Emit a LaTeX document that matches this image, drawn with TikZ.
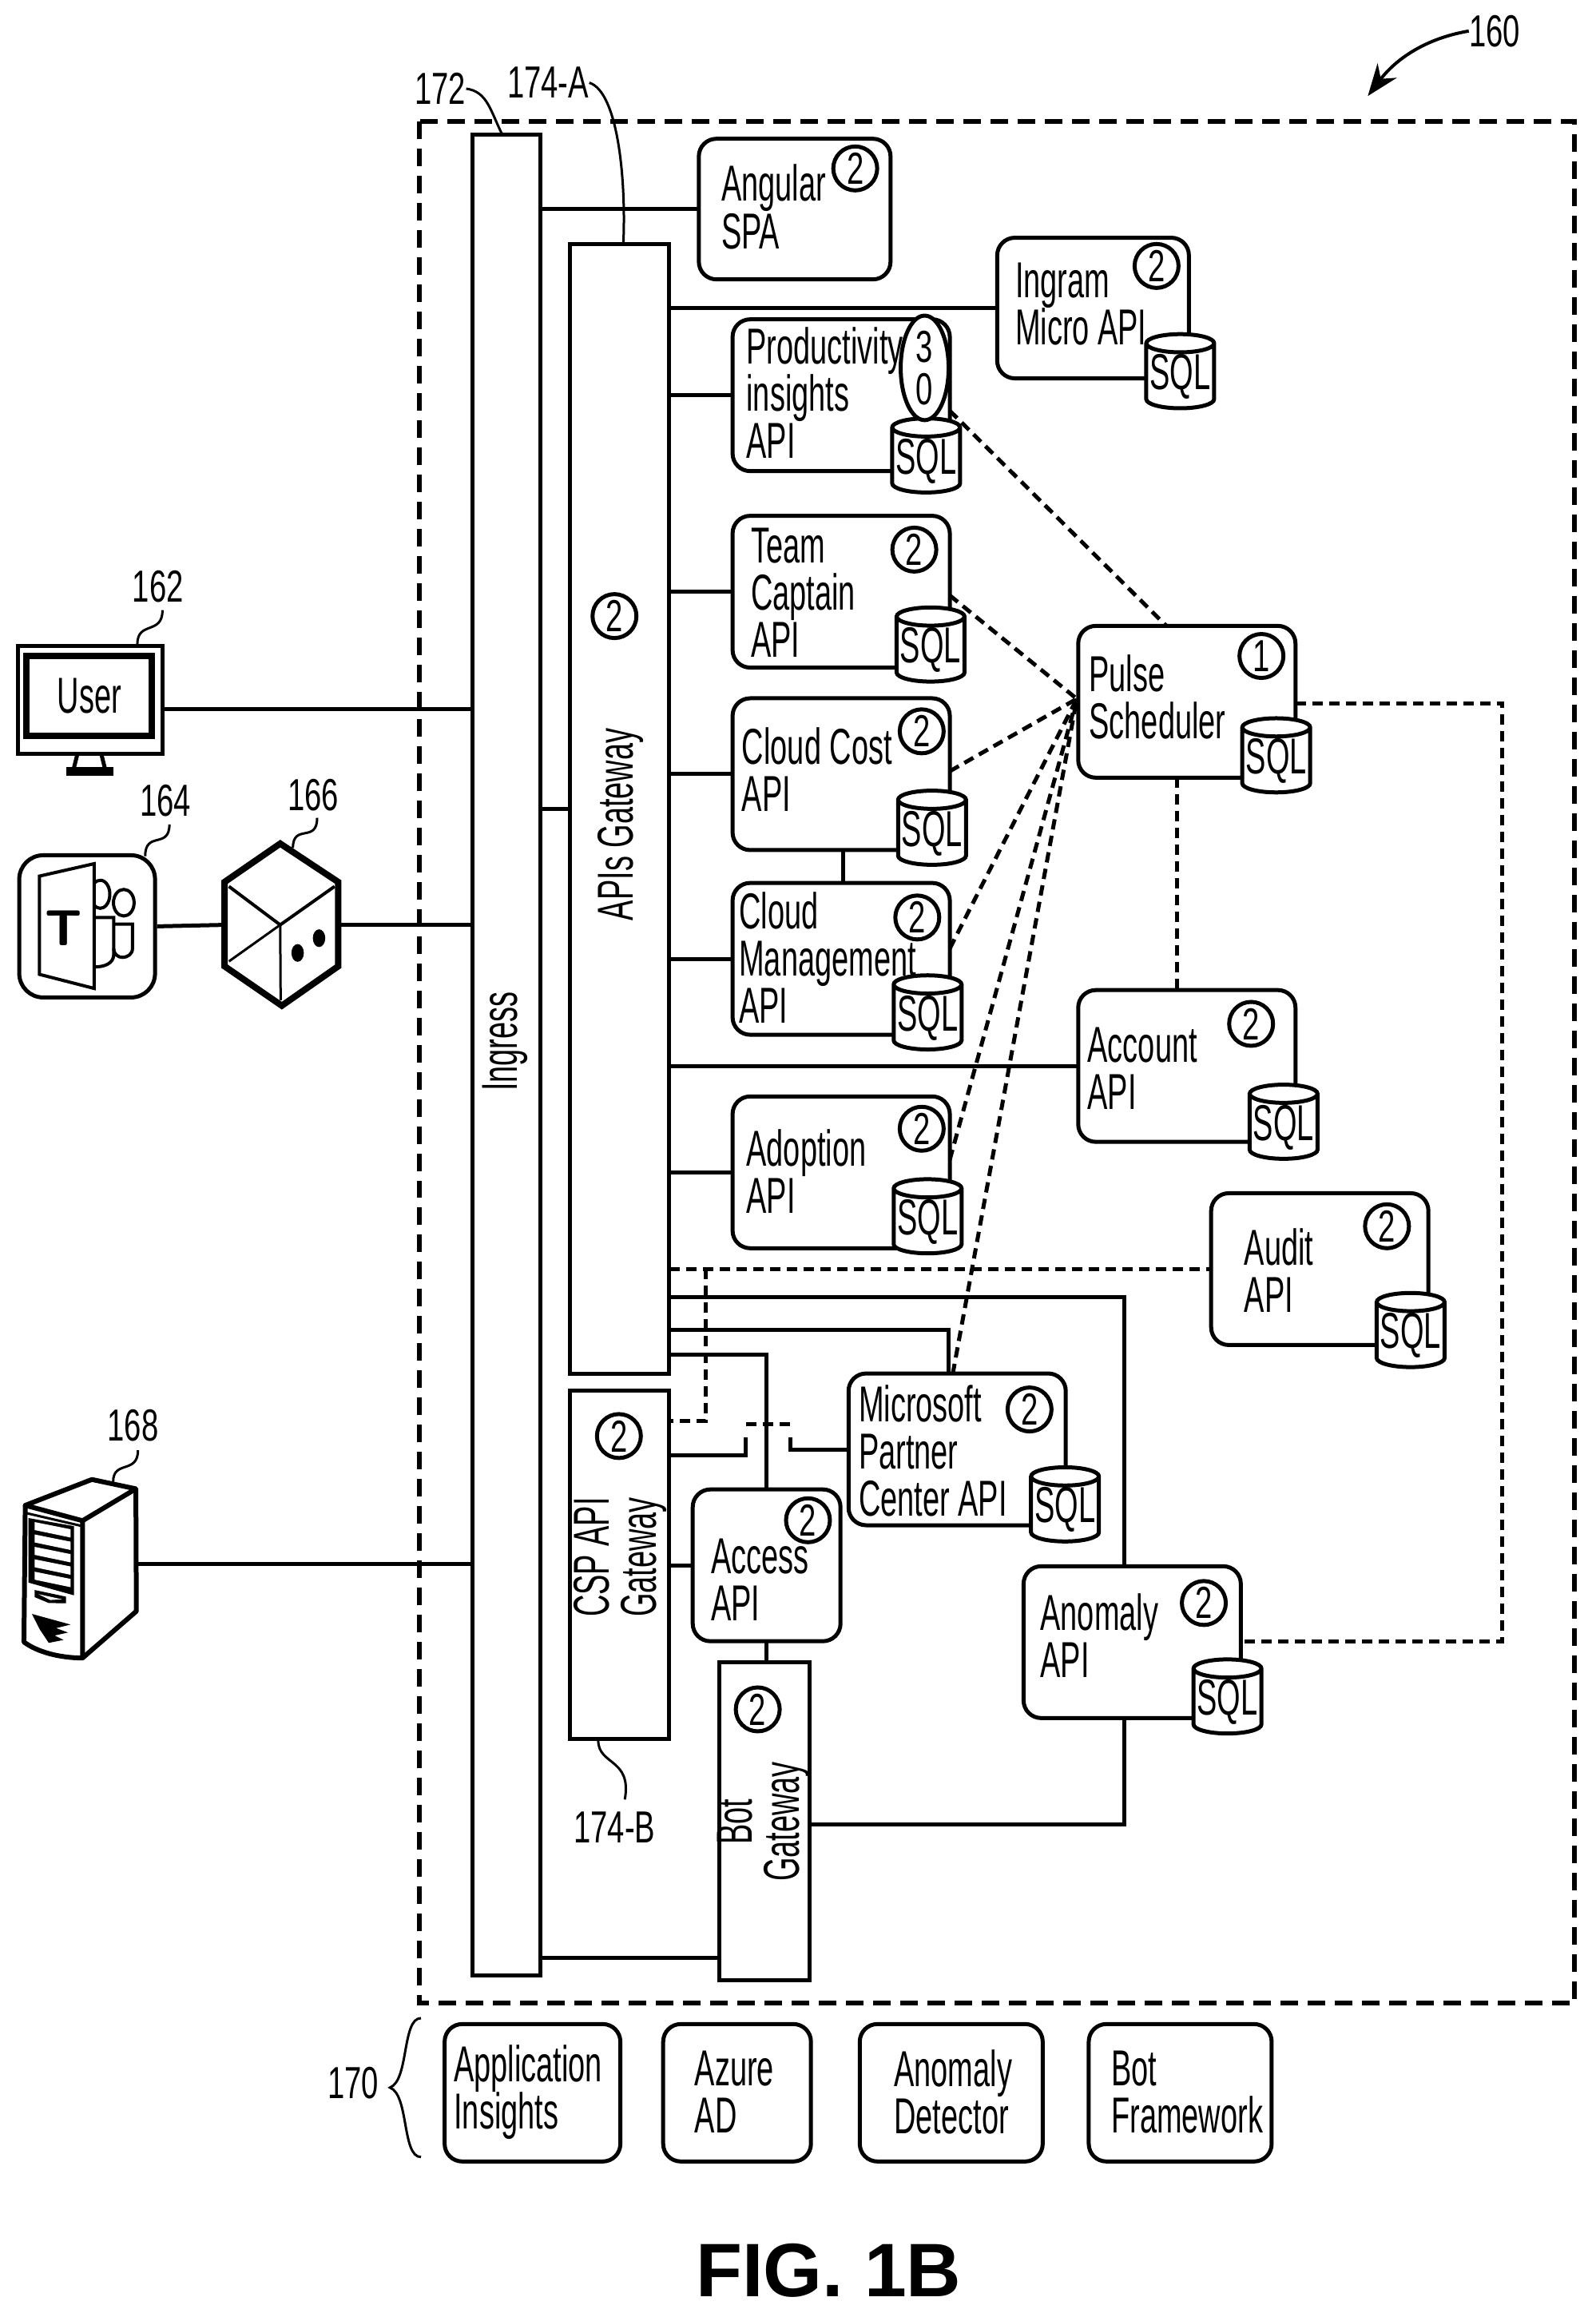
\documentclass[tikz,border=0pt]{standalone}
\usepackage{fontspec}
\setmainfont{Liberation Sans}
\newfontfamily\apifont[FakeStretch=0.6]{Liberation Sans}
\newfontfamily\labelfont[FakeStretch=0.68]{Liberation Sans}
\usetikzlibrary{shapes.geometric,arrows.meta}

\tikzset{
  wire/.style={line width=.05cm},
  dashwire/.style={line width=.05cm,dash pattern=on .13cm off .08cm},
  leader/.style={line width=.03cm},
  frameline/.style={line width=.06cm,dash pattern=on .22cm off .12cm},
  bartext/.style={font=\apifont\fontsize{18pt}{16.8pt}\selectfont,align=center,rotate=90,inner sep=0},
  boxtext/.style={font=\apifont\fontsize{18pt}{16.8pt}\selectfont,align=left,anchor=west,inner sep=0},
  reftext/.style={font=\labelfont\fontsize{16pt}{16pt}\selectfont,inner sep=0},
  bar/.style={draw,wire,fill=white,outer sep=0,inner sep=0},
  apibox/.style={draw,wire,fill=white,rounded corners=.22cm,outer sep=0,inner sep=0,minimum width=2.72cm,minimum height=1.9cm},
  smallbox/.style={apibox,minimum width=2.4cm,minimum height=1.76cm},
  svcbox/.style={apibox,minimum height=1.72cm},
  numcirc/.style={draw,wire,circle,fill=white,inner sep=0,minimum size=.55cm,font=\labelfont\fontsize{16pt}{16pt}\selectfont},
  sqldb/.style={draw,wire,fill=white,shape=cylinder,shape border rotate=90,aspect=.3,inner sep=0,outer sep=0,
    minimum width=.85cm,minimum height=.9cm,font=\apifont\fontsize{18pt}{16pt}\selectfont},
}

\begin{document}
\begin{tikzpicture}[x=.01849cm,y=-.01849cm]
  \useasboundingbox (0,0) rectangle (1080,1571);

  % dashed system frame
  \draw[frameline] (284,82) rectangle (1066,1356);

  % dashed links, under the boxes
  \coordinate (pulsein) at (790,424);
  \coordinate (msout) at (645,930);
  \coordinate (prodout) at (643,278);
  \coordinate (teamout) at (643,403);
  \coordinate (costout) at (643,522);
  \coordinate (mgmtout) at (643,642);
  \coordinate (adoptout) at (643,785);
  \coordinate (hub) at (729,473);
  \coordinate (cspcorner) at (478,962);
  \coordinate (auditcorner) at (478,859);
  \coordinate (rightup) at (1017,476);
  \coordinate (rightdown) at (1017,1111);
  \coordinate (anomout) at (840,1111);
  \draw[dashwire] (prodout) -- (pulsein);
  \draw[dashwire] (teamout) -- (hub);
  \draw[dashwire] (costout) -- (hub);
  \draw[dashwire] (mgmtout) -- (hub);
  \draw[dashwire] (adoptout) -- (hub);
  \draw[dashwire] (msout) -- (hub);

  % main bars
  \node[bar,minimum width=.85cm,minimum height=23.04cm] (ingress) at (343,714) {};
  \node[bar,minimum width=1.24cm,minimum height=14.14cm] (apis) at (419.5,547.5) {};
  \node[bar,minimum width=1.24cm,minimum height=4.36cm] (csp) at (419.5,1059) {};
  \node[bar,minimum width=1.13cm,minimum height=3.98cm] (bot) at (517.5,1232.5) {};
  \node[bartext] (ingresstext) at (342,705) {Ingress};
  \node[bartext] (apistext) at (420,558) {APIs Gateway};
  \node[bartext] (csptext) at (420,1054) {CSP API\\Gateway};
  \node[bartext] (bottext) at (517,1233) {Bot\\Gateway};

  % api boxes
  \node[smallbox] (angular) at (538,141.5) {};
  \node[smallbox] (ingram) at (740,208.5) {};
  \node[apibox] (prod) at (569.5,267.5) {};
  \node[apibox] (team) at (569.5,400.5) {};
  \node[apibox] (cost) at (569.5,524) {};
  \node[apibox] (mgmt) at (569.5,649) {};
  \node[apibox] (adopt) at (569.5,793.5) {};
  \node[apibox] (pulse) at (803.5,475) {};
  \node[apibox] (account) at (803.5,721.5) {};
  \node[apibox] (audit) at (893.5,859) {};
  \node[apibox] (ms) at (648,981) {};
  \node[apibox,minimum width=1.85cm] (access) at (519,1059.5) {};
  \node[apibox] (anomaly) at (766.5,1111.5) {};

  \node[boxtext] (angulartext) at (488,140) {Angular\\SPA};
  \node[boxtext] (ingramtext) at (687,206) {Ingram\\Micro API};
  \node[boxtext] (prodtext) at (505,266) {Productivity\\insights\\API};
  \node[boxtext] (teamtext) at (508,401) {Team\\Captain\\API};
  \node[boxtext] (costtext) at (502,521) {Cloud Cost\\API};
  \node[boxtext] (mgmttext) at (500,648) {Cloud\\Management\\API};
  \node[boxtext] (adopttext) at (505,793) {Adoption\\API};
  \node[boxtext] (pulsetext) at (737,472) {Pulse\\Scheduler};
  \node[boxtext] (accounttext) at (736,723) {Account\\API};
  \node[boxtext] (audittext) at (842,860) {Audit\\API};
  \node[boxtext] (mstext) at (581,982) {Microsoft\\Partner\\Center API};
  \node[boxtext] (accesstext) at (481,1069) {Access\\API};
  \node[boxtext] (anomalytext) at (704,1107) {Anomaly\\API};

  % sql stores
  \node[sqldb] (ingramdb) at (799,255) {SQL};
  \node[sqldb] (proddb) at (627,312) {SQL};
  \node[sqldb] (teamdb) at (630,440) {SQL};
  \node[sqldb] (costdb) at (631,564) {SQL};
  \node[sqldb] (mgmtdb) at (628,689) {SQL};
  \node[sqldb] (adoptdb) at (628,827) {SQL};
  \node[sqldb] (pulsedb) at (864,515) {SQL};
  \node[sqldb] (accountdb) at (869,763) {SQL};
  \node[sqldb] (auditdb) at (955,904) {SQL};
  \node[sqldb] (msdb) at (721,1022) {SQL};
  \node[sqldb] (anomalydb) at (831,1152) {SQL};

  % replica counts
  \node[numcirc] (angularnum) at (579,114) {2};
  \node[numcirc] (ingramnum) at (783,180) {2};
  \node[draw,wire,ellipse,fill=white,inner sep=0,minimum width=.6cm,minimum height=1cm,align=center,
    font=\labelfont\fontsize{16pt}{15pt}\selectfont] (prodnum) at (626,249) {3\\0};
  \node[numcirc] (teamnum) at (619,372) {2};
  \node[numcirc] (costnum) at (624,495) {2};
  \node[numcirc] (mgmtnum) at (621,621) {2};
  \node[numcirc] (adoptnum) at (624,764) {2};
  \node[numcirc] (pulsenum) at (854,444) {1};
  \node[numcirc] (accountnum) at (847,693) {2};
  \node[numcirc] (auditnum) at (939,830) {2};
  \node[numcirc] (msnum) at (697,954) {2};
  \node[numcirc] (accessnum) at (547,1029) {2};
  \node[numcirc] (anomalynum) at (815,1085) {2};
  \node[numcirc] (apisnum) at (416,417) {2};
  \node[numcirc] (cspnum) at (419,972) {2};
  \node[numcirc] (botnum) at (513,1157) {2};

  % solid links
  \draw[wire] (ingress.east |- angular.west) -- (angular.west);
  \draw[wire] (ingress.east |- apis.west) -- (apis.west);
  \draw[wire] (ingress.east |- bot.west |- 0,1325) -- (bot.west |- 0,1325);
  \draw[wire] (apis.east |- ingram.west) -- (ingram.west);
  \draw[wire] (apis.east |- prod.west) -- (prod.west);
  \draw[wire] (apis.east |- team.west) -- (team.west);
  \draw[wire] (apis.east |- cost.west) -- (cost.west);
  \draw[wire] (apis.east |- mgmt.west) -- (mgmt.west);
  \draw[wire] (apis.east |- adopt.west) -- (adopt.west);
  \draw[wire] (apis.east |- account.west) -- (account.west);
  \draw[wire] (cost.south -| 571,0) -- (mgmt.north -| 571,0);
  \draw[wire] (apis.east |- 0,878) -- (761,878) -- (anomaly.north -| 761,0);
  \draw[wire] (apis.east |- 0,900) -- (642,900) -- (ms.north -| 642,0);
  \draw[wire] (apis.east |- 0,917) -- (access.north |- 0,917) -- (access.north);
  \draw[wire] (csp.east |- access.west) -- (access.west);
  \draw[wire] (access.south) -- (access.south |- bot.north);
  \draw[wire] (bot.east |- 0,1235) -- (761,1235) -- (anomaly.south -| 761,0);

  % hop over the access line
  \draw[wire] (csp.east |- 0,985) -- (505,985) -- (505,973);
  \draw[wire] (ms.west) -- (535,981) -- (535,973);

  % dashed links, over the boxes
  \draw[dashwire] (apis.east |- audit.west) -- (audit.west);
  \draw[dashwire] (auditcorner) -- (cspcorner) -- (csp.east |- cspcorner);
  \draw[dashwire] (505,964) -- (535,964);
  \draw[dashwire] (pulse.south -| 797,0) -- (account.north -| 797,0);
  \draw[dashwire] (pulse.east |- rightup) -- (rightup) -- (rightdown) -- (anomout);

  % user monitor
  \draw[wire,fill=white] (12,437) rectangle (110,510);
  \node[draw,line width=.08cm,inner sep=0,minimum width=1.57cm,minimum height=1cm,
    font=\apifont\fontsize{18pt}{18pt}\selectfont] (user) at (60.5,471) {User};
  \draw[wire] (52.5,510) -- (50,520) (68.5,510) -- (71,520);
  \fill (45,519) rectangle (77,525);
  \coordinate (userport) at (110,480);
  \draw[wire] (userport) -- (ingress.west |- userport);

  % teams client
  \node[draw,wire,rounded corners=.3cm,minimum width=1.7cm,minimum height=1.78cm,inner sep=0] (teams) at (59,627) {};
  \draw[line width=.04cm] (26.7,593) -- (63.7,584.6) -- (63.7,669) -- (26.7,659.5) -- cycle;
  \node[font=\sffamily\bfseries\fontsize{18pt}{18pt}\selectfont,inner sep=0] (teamst) at (43,628) {T};
  \draw[line width=.04cm] (63.7,598) arc[start angle=-130,end angle=130,x radius=6.5,y radius=9.5];
  \draw[line width=.04cm] (83.8,611) ellipse[x radius=7,y radius=9];
  \draw[line width=.04cm] (63.7,621) -- (77,621) -- (77,646) .. controls (77,652) and (71,654.5) .. (63.7,654.5);
  \draw[line width=.04cm] (77,625.5) -- (89.7,625.5) -- (89.7,642) .. controls (89.7,646) and (86,648) .. (83,648) .. controls (80,648) and (77,646) .. (77,642);

  % bot connector cube
  \coordinate (cubewest) at (152,626);
  \coordinate (cubeeast) at (229,626);
  \draw[line width=.08cm,line join=miter] (189.7,571) -- (229,597) -- (229,654) -- (190.8,680.7) -- (152,654) -- (152,597) -- cycle;
  \draw[line width=.04cm] (155,600) -- (189.7,626) -- (226.5,600);
  \draw[line width=.03cm] (189.7,626) -- (155,650.7);
  \draw[line width=.03cm] (189.7,626) -- (190,677);
  \fill (201.5,645) ellipse[x radius=4.2,y radius=6];
  \fill (216,635) ellipse[x radius=4.2,y radius=6];
  \draw[wire] (teams.east) -- (cubewest);
  \draw[wire] (cubeeast) -- (ingress.west |- cubeeast);

  % server tower
  \draw[line width=.06cm,line join=round] (17.1,1018.9) -- (62.2,1001.4) -- (92,1007.7) -- (55.9,1029.3) -- cycle;
  \draw[line width=.06cm,line join=round] (17.1,1018.9) -- (16.2,1111.4) .. controls (25,1118) and (40,1122.2) .. (55.9,1122.2) -- (55.9,1029.3);
  \draw[line width=.06cm,line join=round] (92,1007.7) -- (92.3,1090.6) -- (55.9,1122.2);
  \draw[line width=.03cm] (17.1,1024) -- (55.9,1033);
  \fill (19.3,1027.5) -- (50.1,1033) -- (50.1,1079.8) -- (19.3,1071.2) -- cycle;
  \foreach \i in {0,...,4} {
    \fill[white] (23.4,1030.2+8.4*\i) -- (47.8,1035.1+8.4*\i) -- (47.8,1040.7+8.4*\i) -- (23.4,1035.6+8.4*\i) -- cycle;
  }
  \fill (23.4,1076.2) -- (44.7,1080.7) -- (44.7,1085.2) -- (33,1085) -- (23.4,1081) -- cycle;
  \fill[white] (26,1079) -- (42,1082.5) -- (34,1083) -- cycle;
  \fill (21.6,1092.4) -- (47.8,1099.6) -- (38,1102) -- (46,1105) -- (37,1107) -- (43,1110) -- (33,1112) -- (27,1103) -- cycle;
  \coordinate (serverport) at (92.5,1058.5);
  \draw[wire] (serverport) -- (ingress.west |- serverport);

  % outside services
  \node[svcbox,minimum width=2.2cm] (insights) at (360.5,1416.5) {};
  \node[svcbox,minimum width=1.85cm] (azure) at (499,1416.5) {};
  \node[svcbox,minimum width=2.29cm] (detector) at (644,1416.5) {};
  \node[svcbox,minimum width=2.29cm] (framework) at (799,1416.5) {};
  \node[boxtext] (insightstext) at (307,1416) {Application\\Insights};
  \node[boxtext] (azuretext) at (470,1416) {Azure\\AD};
  \node[boxtext] (detectortext) at (605,1416) {Anomaly\\Detector};
  \node[boxtext] (frameworktext) at (752,1416) {Bot\\Framework};

  % brace
  \coordinate (bracetop) at (285,1366);
  \coordinate (bracetip) at (264,1413);
  \coordinate (bracebot) at (285,1460);
  \draw[leader] (bracetop) .. controls (272,1366) and (277,1408) .. (bracetip) .. controls (277,1418) and (272,1460) .. (bracebot);

  % reference numerals
  \node[reftext] (ref160) at (1012,21) {160};
  \node[reftext] (ref162) at (107,397) {162};
  \node[reftext] (ref164) at (112,542) {164};
  \node[reftext] (ref166) at (212,538) {166};
  \node[reftext] (ref168) at (90,965) {168};
  \node[reftext] (ref170) at (239,1410) {170};
  \node[reftext] (ref172) at (298,60) {172};
  \node[reftext] (ref174a) at (371,56) {174-A};
  \node[reftext] (ref174b) at (416,1237) {174-B};

  \coordinate (tip160) at (926,65);
  \draw[line width=.04cm,-{Stealth[length=.4cm,width=.3cm]}] (ref160.west) .. controls (965,26) and (945,40) .. (tip160);
  \draw[leader] (110,413) .. controls (110,430) and (93,420) .. (93,436);
  \draw[leader] (114.7,558) .. controls (114.7,575) and (98.3,562) .. (98.3,579.5);
  \draw[leader] (214.7,553.6) .. controls (214.7,571) and (198.3,557) .. (198.3,574);
  \draw[leader] (93.4,981.6) .. controls (93.4,998) and (76.6,988) .. (76.6,1003);
  \draw[leader] (ref172.east) .. controls (330,62) and (332,75) .. (340,91);
  \draw[leader] (ref174a.east) .. controls (418,62) and (424,120) .. (422,165);
  \draw[leader] (405,1178) .. controls (405,1195) and (428,1190) .. (423,1218);

  % figure title
  \node[font=\bfseries\fontsize{27pt}{27pt}\selectfont,inner sep=0] (title) at (561,1537) {FIG. 1B};
\end{tikzpicture}
\end{document}
